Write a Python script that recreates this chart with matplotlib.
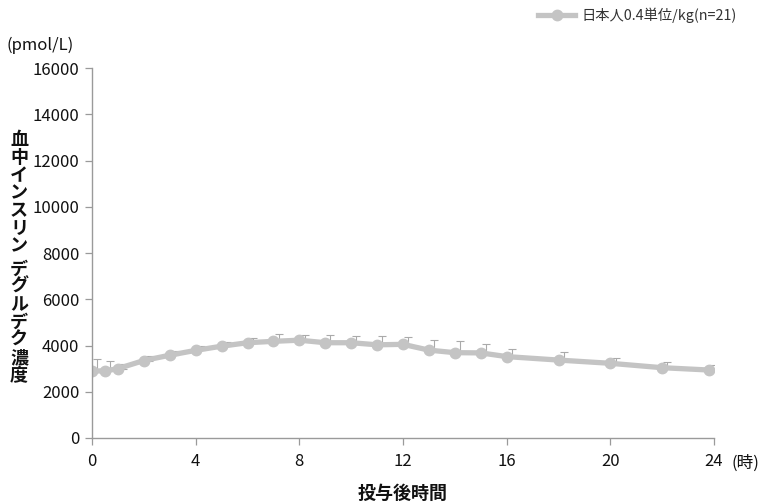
import matplotlib
matplotlib.use('Agg')
import matplotlib.pyplot as plt
import numpy as np

plt.rcParams['font.family'] = ['Noto Sans CJK JP', 'DejaVu Sans']

# Mean insulin degludec concentration (pmol/L) by hours after dosing
hours = [0, 0.5, 1, 2, 3, 4, 5, 6, 7, 8, 9, 10, 11, 12, 13, 14, 15, 16, 18, 20, 22, 23.8]
conc = [2900, 2900, 3000, 3350, 3580, 3790, 3970, 4120, 4180, 4230, 4120,
        4120, 4030, 4050, 3800, 3690, 3680, 3520, 3370, 3230, 3040, 2940]
sd = [500, 440, 200, 200, 200, 200, 200, 200, 330, 220, 330,
      280, 370, 300, 420, 500, 400, 310, 345, 210, 240, 200]

x_ticks = [0, 4, 8, 12, 16, 20, 24]
y_ticks = [0, 2000, 4000, 6000, 8000, 10000, 12000, 14000, 16000]

W, H = 763, 503
fig = plt.figure(figsize=(W / 100, H / 100), dpi=100)
ax = fig.add_axes([92 / W, 1 - 438 / H, (714 - 92) / W, (438 - 68) / H])

line_col = '#c4c4c4'
axis_col = '#9a9a9a'

# upper-only SD bars, nudged right of the markers
x_err = np.array(hours) + 0.2
ax.errorbar(x_err, conc, yerr=[np.zeros(len(sd)), sd], fmt='none',
            ecolor='#aaaaaa', elinewidth=0.8, capsize=3, capthick=0.8, zorder=1)

ax.plot(hours, conc, color=line_col, linewidth=3.8, marker='o',
        markersize=7.5, markerfacecolor=line_col, markeredgecolor=line_col,
        zorder=2, label='日本人0.4単位/kg(n=21)')

ax.set_xlim(0, 24)
ax.set_ylim(0, 16000)
ax.set_xticks(x_ticks)
ax.set_yticks(y_ticks)
ax.tick_params(axis='both', direction='out', length=5, width=0.9,
               color=axis_col, labelsize=12, labelcolor='#111111')
ax.tick_params(axis='x', pad=6)
ax.tick_params(axis='y', pad=4)
for side in ['top', 'right']:
    ax.spines[side].set_visible(False)
for side in ['left', 'bottom']:
    ax.spines[side].set_color(axis_col)
    ax.spines[side].set_linewidth(1.0)

# unit labels
fig.text(40 / W, 1 - 45 / H, '(pmol/L)', fontsize=12, ha='center', va='center',
         color='#111111')
fig.text(745 / W, 1 - 463 / H, '(時)', fontsize=12, ha='center', va='center',
         color='#111111')

# vertical y title, one glyph per row with a half-gap at the space
ylabel = '血中インスリン デグルデク濃度'
y_px = 140
for ch in ylabel:
    if ch == ' ':
        y_px += 5
        continue
    fig.text(19 / W, 1 - y_px / H, ch, fontsize=13, fontweight='bold',
             ha='center', va='center', color='#111111')
    y_px += 17.7
fig.text(403 / W, 1 - 493 / H, '投与後時間', fontsize=13, fontweight='bold',
         ha='center', va='center', color='#111111')

leg = fig.legend(loc='center left', bbox_to_anchor=(531 / W, 1 - 15 / H),
                 frameon=False, fontsize=10.3, handlelength=2.6, handletextpad=0.4,
                 borderpad=0, labelcolor='#333333')

fig.savefig('out.png', dpi=100, facecolor='white')
